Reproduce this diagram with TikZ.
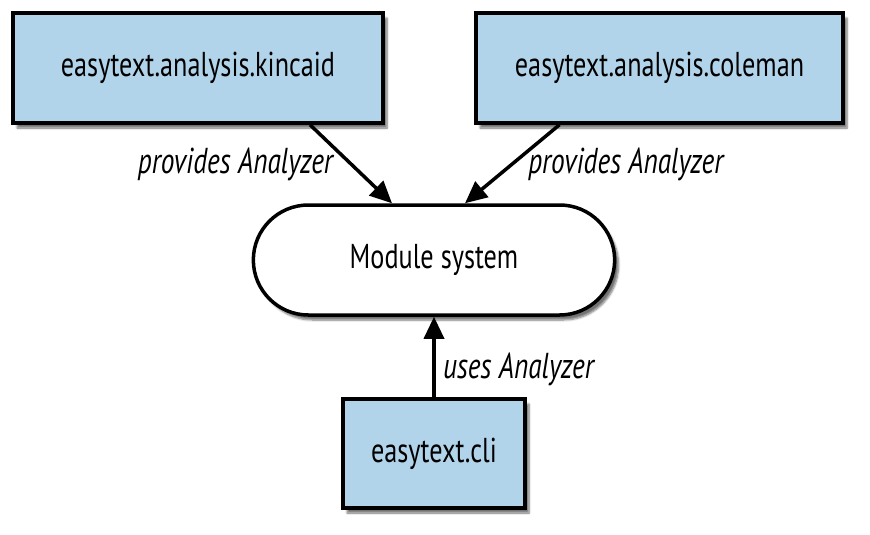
\documentclass[tikz,border=0pt]{standalone}
\usepackage{fontspec}
\setmainfont{PT Sans}[FakeStretch=0.76]
\usepackage{tikz}
\usetikzlibrary{shapes.misc,shadows.blur,arrows.meta}
\definecolor{boxblue}{RGB}{178,212,234}

\begin{document}
\begin{tikzpicture}[x=1pt,y=-1pt,
		modbox/.style={rectangle,draw,line width=3.5pt,fill=boxblue,
			minimum height=110pt,font=\fontsize{34.5}{40}\selectfont,
			blur shadow={shadow xshift=4pt,shadow yshift=-5pt,shadow blur steps=6,
				shadow opacity=55}},
		link/.style={line width=3.5pt,-{Triangle[length=22pt,width=20pt]}},
		lbl/.style={font=\itshape\fontsize{36}{42}\selectfont}]
		\useasboundingbox (0,0) rectangle (870,535);

		% Modules
		\node[modbox,minimum width=370pt] (kincaid) at (198,68) {easytext.analysis.kincaid};
		\node[modbox,minimum width=367pt] (coleman) at (659.5,68) {easytext.analysis.coleman};
		\node[modbox,minimum width=182pt,minimum height=109pt] (cli) at (434,453.5) {easytext.cli};

		% Module system
		\node[modbox,rounded rectangle,fill=white,minimum width=368pt]
			(modsys) at (434,260) {Module system};

		% Service bindings
		\draw[link] ([xshift=112pt]kincaid.south) -- node[lbl,left=13pt] {provides Analyzer}
			([xshift=-42pt]modsys.north);
		\draw[link] ([xshift=-100pt]coleman.south) -- node[lbl,right=11pt] {provides Analyzer}
			([xshift=31pt]modsys.north);
		\draw[link] (cli.north) -- node[lbl,right=4pt,pos=0.35] {uses Analyzer} (modsys.south);
	\end{tikzpicture}
\end{document}
